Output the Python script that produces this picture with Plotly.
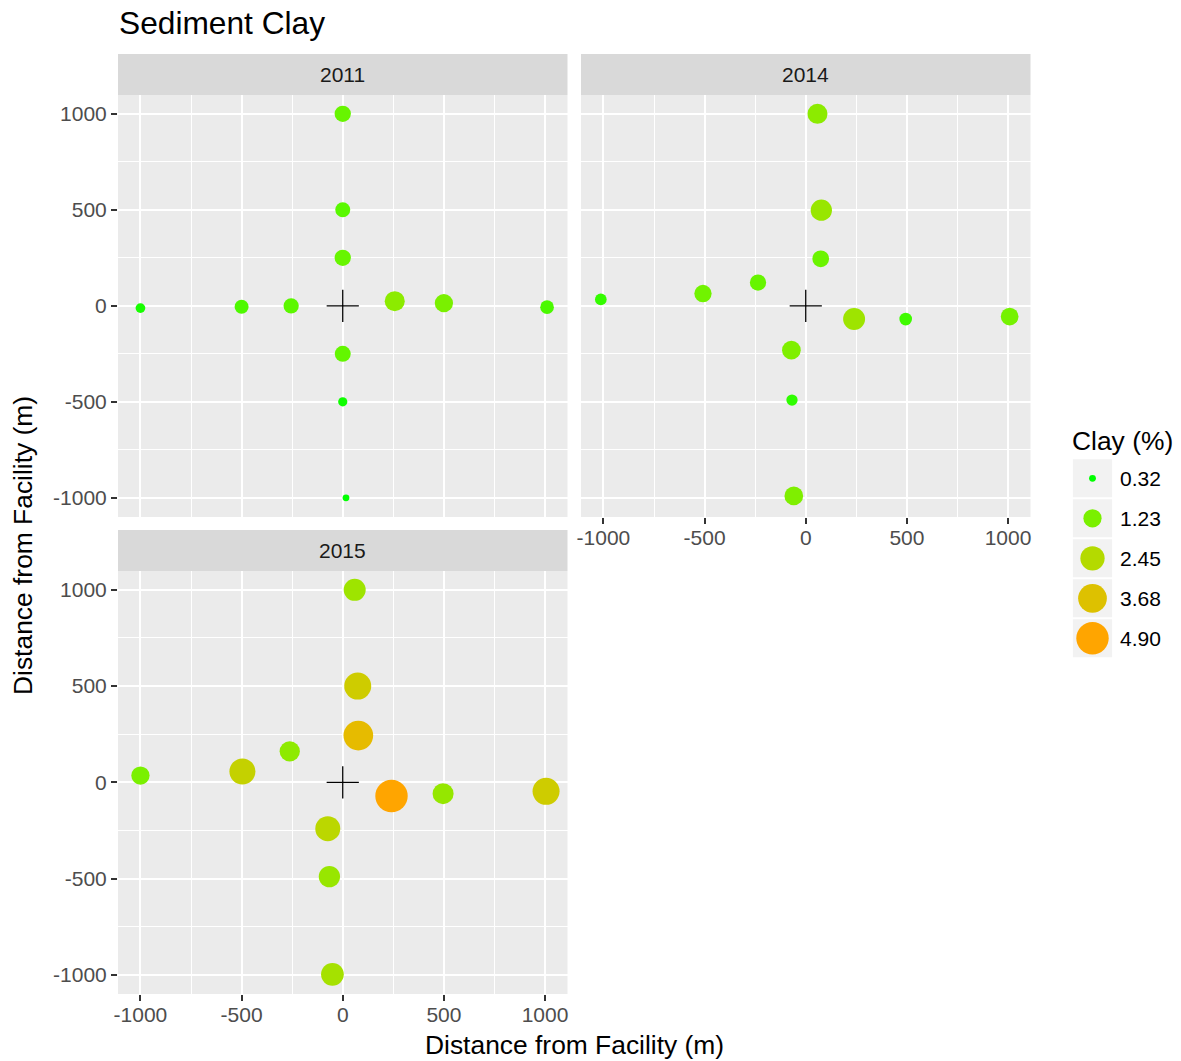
import numpy as np
import plotly.graph_objects as go

W, H = 1181, 1061

# Station offsets from the facility (m) and sediment clay content (%) per survey year
x_2011 = [0, 0, 0, -1000, -500, -255, 257, 500, 1010, 0, 0, 16]
y_2011 = [1000, 500, 250, -12, -5, 0, 24, 14, -7, -250, -500, -1000]
clay_2011 = [0.95, 0.79, 0.95, 0.38, 0.68, 0.82, 1.54, 1.24, 0.65, 0.91, 0.36, 0.32]

x_2014 = [58, 77, 74, -236, -508, -1013, 239, 494, 1008, -71, -68, -59]
y_2014 = [1000, 498, 245, 121, 64, 33, -69, -69, -56, -231, -491, -990]
clay_2014 = [1.54, 1.79, 1.01, 0.95, 1.09, 0.49, 1.93, 0.56, 1.15, 1.31, 0.46, 1.31]

x_2015 = [59, 74, 77, -262, -496, -1000, 241, 496, 1005, -74, -66, -51]
y_2015 = [1000, 500, 243, 161, 56, 35, -71, -59, -47, -241, -490, -998]
clay_2015 = [1.93, 3.17, 3.98, 1.59, 2.90, 1.24, 4.90, 1.73, 3.17, 2.63, 1.79, 2.09]

years = ["2011", "2014", "2015"]
legend_breaks = [0.32, 1.23, 2.45, 3.68, 4.90]
axis_ticks = [-1000, -500, 0, 500, 1000]
minor_ticks = [-750, -250, 250, 750]
facility = [0]

FONT = "Liberation Sans, Arial, sans-serif"
PANEL_BG = "#EBEBEB"
STRIP_BG = "#D9D9D9"

# ---------- colour scale: green -> orange, interpolated in CIE Lab ----------
M = np.array([[0.4124564, 0.3575761, 0.1804375],
              [0.2126729, 0.7151522, 0.0721750],
              [0.0193339, 0.1191920, 0.9503041]])
WHITE = np.array([0.95047, 1.0, 1.08883])


def rgb_to_lab(rgb):
    c = np.array(rgb, float) / 255
    lin = np.where(c <= 0.04045, c / 12.92, ((c + 0.055) / 1.055) ** 2.4)
    xyz = M @ lin / WHITE
    f = np.where(xyz > (6 / 29) ** 3, np.cbrt(xyz), xyz / (3 * (6 / 29) ** 2) + 4 / 29)
    return np.array([116 * f[1] - 16, 500 * (f[0] - f[1]), 200 * (f[1] - f[2])])


def lab_to_hex(lab):
    L, a, b = lab
    fy = (L + 16) / 116
    f = np.array([fy + a / 500, fy, fy - b / 200])
    xyz = np.where(f > 6 / 29, f ** 3, 3 * (6 / 29) ** 2 * (f - 4 / 29)) * WHITE
    lin = np.clip(np.linalg.inv(M) @ xyz, 0, 1)
    c = np.where(lin <= 0.0031308, 12.92 * lin, 1.055 * lin ** (1 / 2.4) - 0.055)
    r, g, bb = np.clip(np.round(c * 255), 0, 255).astype(int)
    return f"#{r:02X}{g:02X}{bb:02X}"


low_lab = rgb_to_lab((0, 255, 0))      # green
high_lab = rgb_to_lab((255, 165, 0))   # orange
colorscale = [[t, lab_to_hex(low_lab + (high_lab - low_lab) * t)] for t in np.linspace(0, 1, 41)]

vmin, vmax = min(legend_breaks), max(legend_breaks)


def dot_diameter(v):
    t = np.clip((np.asarray(v, float) - vmin) / (vmax - vmin), 0, 1)
    return 6.8 + 25.6 * np.sqrt(t)


# ---------- layout geometry (pixels) ----------
def px_x(p):
    return p / W


def px_y(p):
    return 1 - p / H


col_x = [(118, 567.5), (581, 1030.5), (118, 567.5)]
row_y = [(95, 517), (95, 517), (571, 994)]
strip_h = 41

fig = go.Figure()

panel_data = [(x_2011, y_2011, clay_2011), (x_2014, y_2014, clay_2014), (x_2015, y_2015, clay_2015)]
for i, (xs, ys, cs) in enumerate(panel_data):
    sfx = "" if i == 0 else str(i + 1)
    fig.add_trace(go.Scatter(
        x=xs, y=ys, mode="markers", xaxis="x" + sfx, yaxis="y" + sfx,
        marker=dict(size=dot_diameter(cs), color=cs, colorscale=colorscale,
                    cmin=vmin, cmax=vmax, line=dict(width=0), opacity=1),
        showlegend=False, hoverinfo="x+y+text", text=[f"{c:.2f}%" for c in cs],
    ))
    # facility location
    fig.add_trace(go.Scatter(
        x=facility, y=facility, mode="markers", xaxis="x" + sfx, yaxis="y" + sfx,
        marker=dict(symbol="cross-thin", size=23, line=dict(width=1.3, color="#000000")),
        showlegend=False, hoverinfo="skip",
    ))

# legend keys (size + colour) drawn on their own small axes
fig.add_trace(go.Scatter(
    x=[0.5] * len(legend_breaks), y=list(range(len(legend_breaks))), mode="markers",
    xaxis="x4", yaxis="y4",
    marker=dict(size=dot_diameter(legend_breaks), color=legend_breaks, colorscale=colorscale,
                cmin=vmin, cmax=vmax, line=dict(width=0), opacity=1),
    showlegend=False, hoverinfo="skip",
))

grid = dict(showgrid=True, gridcolor="white", gridwidth=2.4, zeroline=False,
            tickmode="array", tickvals=axis_ticks, ticktext=[str(v) for v in axis_ticks],
            minor=dict(tickvals=minor_ticks, showgrid=True, gridcolor="white", gridwidth=1.2, ticks=""),
            showline=False, tickfont=dict(family=FONT, size=21, color="#4D4D4D"),
            tickcolor="#333333", ticklen=6, tickwidth=2.2, automargin=False)

xr = [-1111, 1111]
yr = [-1100, 1098]

layout = dict(
    width=W, height=H, autosize=False,
    margin=dict(l=0, r=0, t=0, b=0, pad=0, autoexpand=False),
    paper_bgcolor="white", plot_bgcolor="rgba(0,0,0,0)",
    font=dict(family=FONT),
    showlegend=False,
)

show_xlabels = [False, True, True]
show_ylabels = [True, False, True]
for i in range(3):
    sfx = "" if i == 0 else str(i + 1)
    x0, x1 = col_x[i]
    y0, y1 = row_y[i]
    layout["xaxis" + sfx] = dict(grid, domain=[px_x(x0), px_x(x1)], range=xr, anchor="y" + sfx,
                                 showticklabels=show_xlabels[i], ticklabelstandoff=-4,
                                 ticks="outside" if show_xlabels[i] else "")
    layout["yaxis" + sfx] = dict(grid, domain=[px_y(y1), px_y(y0)], range=yr, anchor="x" + sfx,
                                 showticklabels=show_ylabels[i],
                                 ticks="outside" if show_ylabels[i] else "")

n = len(legend_breaks)
layout["xaxis4"] = dict(domain=[px_x(1072.7), px_x(1112.3)], range=[0, 1], visible=False,
                        anchor="y4", fixedrange=True, automargin=False)
layout["yaxis4"] = dict(domain=[px_y(458.3 + 40 * n), px_y(458.3)], range=[n - 0.5, -0.5],
                        visible=False, anchor="x4", fixedrange=True, automargin=False)

shapes = []
annotations = []
for i, yr_label in enumerate(years):
    x0, x1 = col_x[i]
    y0, y1 = row_y[i]
    shapes.append(dict(type="rect", xref="paper", yref="paper", layer="below",
                       x0=px_x(x0), x1=px_x(x1), y0=px_y(y1), y1=px_y(y0),
                       fillcolor=PANEL_BG, line=dict(width=0)))
    shapes.append(dict(type="rect", xref="paper", yref="paper", layer="below",
                       x0=px_x(x0), x1=px_x(x1), y0=px_y(y0), y1=px_y(y0 - strip_h),
                       fillcolor=STRIP_BG, line=dict(width=0)))
    annotations.append(dict(text=yr_label, xref="paper", yref="paper",
                            x=px_x((x0 + x1) / 2), y=px_y(y0 - strip_h / 2),
                            xanchor="center", yanchor="middle", showarrow=False,
                            font=dict(family=FONT, size=21, color="#1A1A1A")))

for k, b in enumerate(legend_breaks):
    shapes.append(dict(type="rect", xref="x4", yref="y4", layer="below",
                       x0=0, x1=1, y0=k - 0.475, y1=k + 0.475,
                       fillcolor="#F2F2F2", line=dict(width=0)))
    annotations.append(dict(text=f"{b:.2f}", xref="paper", yref="y4", x=px_x(1118), y=k,
                            xanchor="left", yanchor="middle", showarrow=False,
                            font=dict(family=FONT, size=21, color="#000000")))

annotations += [
    dict(text="Clay (%)", xref="paper", yref="paper", x=px_x(1070), y=px_y(441),
         xanchor="left", yanchor="middle", showarrow=False,
         font=dict(family=FONT, size=26.4, color="#000000")),
    dict(text="Sediment Clay", xref="paper", yref="paper", x=px_x(117), y=px_y(23),
         xanchor="left", yanchor="middle", showarrow=False,
         font=dict(family=FONT, size=31.7, color="#000000")),
    dict(text="Distance from Facility (m)", xref="paper", yref="paper", x=px_x(574), y=px_y(1045),
         xanchor="center", yanchor="middle", showarrow=False,
         font=dict(family=FONT, size=26.4, color="#000000")),
    dict(text="Distance from Facility (m)", xref="paper", yref="paper", x=px_x(23), y=px_y(546),
         xanchor="center", yanchor="middle", showarrow=False, textangle=-90,
         font=dict(family=FONT, size=26.4, color="#000000")),
]

layout["shapes"] = shapes
layout["annotations"] = annotations
fig.update_layout(**layout)

fig.write_html("out.html")
